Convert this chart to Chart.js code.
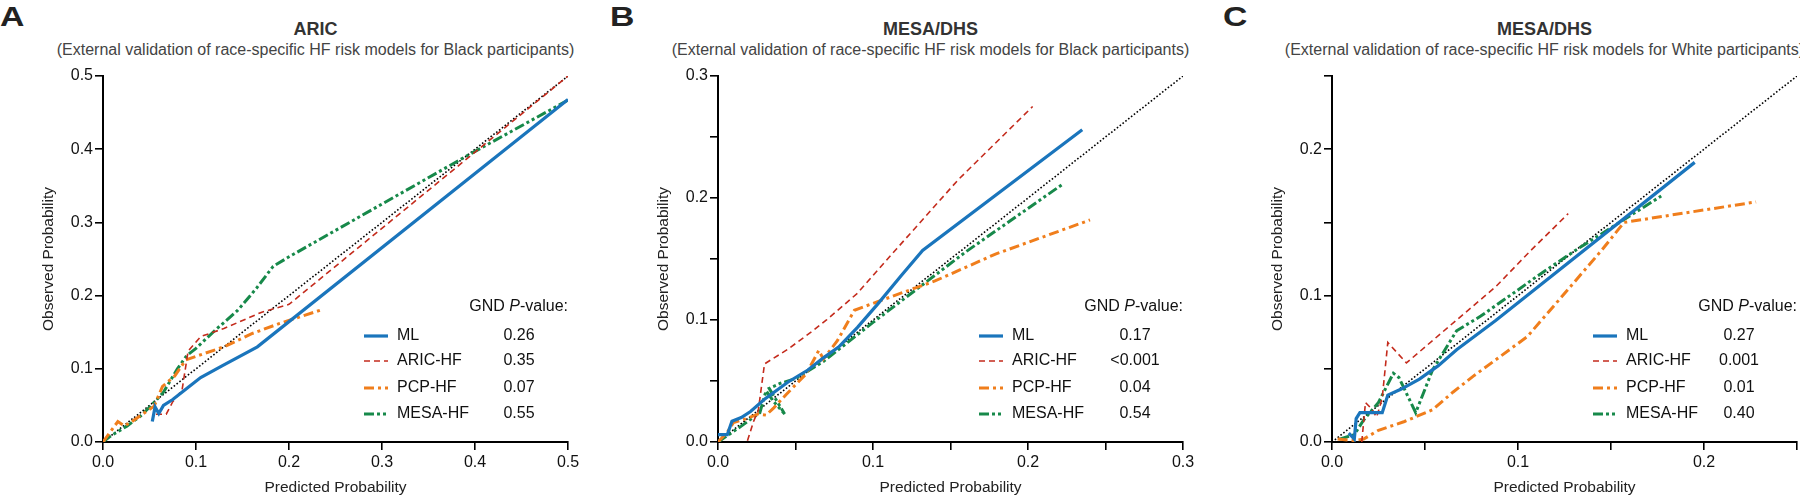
<!DOCTYPE html>
<html><head><meta charset="utf-8">
<script src="https://cdn.jsdelivr.net/npm/chart.js@4"></script>
<style>
html,body{margin:0;padding:0;background:#fff;width:1800px;height:497px;overflow:hidden;font-family:"Liberation Sans",Arial,sans-serif}
canvas{position:absolute;top:0}
.letter{position:absolute;top:4px;font-weight:bold;font-size:27px;line-height:27px;color:#222;transform:scaleX(1.25);transform-origin:left center}
.title{position:absolute;transform:translateX(-50%);white-space:nowrap;text-align:center}
.t1{top:19px;font-weight:bold;font-size:18px;line-height:20px;color:#333}
.t2{top:41px;font-size:16px;line-height:18px;color:#444}
</style></head><body>
<script>
// ---------- data ----------
const seriesNames = ['ML', 'ARIC-HF', 'PCP-HF', 'MESA-HF'];
const panelLetters = ['A', 'B', 'C'];
const panelTitles = ['ARIC', 'MESA/DHS', 'MESA/DHS'];
const panelSubtitles = [
  '(External validation of race-specific HF risk models for Black participants)',
  '(External validation of race-specific HF risk models for Black participants)',
  '(External validation of race-specific HF risk models for White participants)'
];
const xAxisTitle = 'Predicted Probability';
const yAxisTitle = 'Observed Probability';
const legendHeader = ['GND ', 'P', '-value:'];

const pValuesA = ['0.26', '0.35', '0.07', '0.55'];
const pValuesB = ['0.17', '<0.001', '0.04', '0.54'];
const pValuesC = ['0.27', '0.001', '0.01', '0.40'];

const axisMax = [0.5, 0.3, 0.25];
const tickStep = [0.1, 0.05, 0.05];

// Panel A (ARIC, Black participants)
const aML = [[0.053,0.028],[0.056,0.048],[0.060,0.039],[0.065,0.050],[0.075,0.058],[0.090,0.073],[0.105,0.088],[0.128,0.104],[0.166,0.130],[0.5,0.468]];
const aARIC = [[0.057,0.038],[0.068,0.038],[0.075,0.055],[0.085,0.071],[0.0915,0.124],[0.105,0.144],[0.13,0.155],[0.17,0.177],[0.2,0.188],[0.5,0.5]];
const aPCP = [[0,0],[0.016,0.028],[0.023,0.022],[0.03,0.027],[0.055,0.049],[0.064,0.076],[0.077,0.090],[0.089,0.112],[0.1,0.117],[0.13,0.13],[0.16,0.148],[0.19,0.162],[0.236,0.181]];
const aMESA = [[0,0],[0.008,0.008],[0.026,0.022],[0.04,0.035],[0.052,0.05],[0.065,0.068],[0.08,0.1],[0.09,0.118],[0.1,0.128],[0.12,0.152],[0.145,0.18],[0.165,0.21],[0.183,0.24],[0.2,0.253],[0.39,0.39],[0.5,0.467]];

// Panel B (MESA/DHS, Black participants)
const bML = [[0,0.006],[0.006,0.006],[0.009,0.017],[0.015,0.02],[0.021,0.025],[0.03,0.035],[0.045,0.049],[0.058,0.059],[0.068,0.069],[0.078,0.078],[0.09,0.094],[0.103,0.113],[0.118,0.136],[0.132,0.157],[0.235,0.256]];
const bARIC = [[0.019,0.001],[0.023,0.017],[0.026,0.026],[0.03,0.064],[0.045,0.076],[0.06,0.09],[0.07,0.1],[0.09,0.122],[0.115,0.158],[0.155,0.215],[0.203,0.275]];
const bPCP = [[0,0],[0.006,0.008],[0.01,0.016],[0.018,0.019],[0.026,0.023],[0.031,0.022],[0.036,0.028],[0.044,0.039],[0.057,0.056],[0.065,0.075],[0.068,0.068],[0.077,0.083],[0.088,0.108],[0.103,0.115],[0.118,0.122],[0.14,0.132],[0.179,0.154],[0.24,0.182]];
const bMESA = [[0,0],[0.015,0.013],[0.027,0.024],[0.031,0.042],[0.036,0.033],[0.043,0.023],[0.033,0.044],[0.04,0.048],[0.05,0.052],[0.068,0.066],[0.1,0.098],[0.13,0.127],[0.16,0.156],[0.222,0.211]];

// Panel C (MESA/DHS, White participants)
const cML = [[0.009,0.006],[0.012,0.002],[0.013,0.016],[0.015,0.02],[0.027,0.02],[0.03,0.032],[0.037,0.036],[0.047,0.043],[0.057,0.052],[0.067,0.063],[0.088,0.083],[0.195,0.191]];
const cARIC = [[0.016,0],[0.018,0.027],[0.021,0.023],[0.024,0.017],[0.027,0.03],[0.03,0.068],[0.04,0.054],[0.063,0.079],[0.088,0.106],[0.107,0.131],[0.127,0.156]];
const cPCP = [[0.003,0.002],[0.012,0.001],[0.017,0.002],[0.025,0.008],[0.039,0.014],[0.054,0.022],[0.065,0.034],[0.076,0.045],[0.09,0.058],[0.105,0.072],[0.122,0.097],[0.145,0.131],[0.157,0.15],[0.228,0.164]];
const cMESA = [[0.004,0.002],[0.012,0.005],[0.017,0.015],[0.025,0.027],[0.033,0.047],[0.036,0.044],[0.045,0.02],[0.054,0.049],[0.067,0.076],[0.08,0.086],[0.099,0.103],[0.11,0.113],[0.131,0.131],[0.177,0.168]];

// ---------- styles ----------
const FONT = '"Liberation Sans", Arial, Helvetica, sans-serif';
const seriesStyle = [
  {color:'#1a75bc', width:3.2, dash:[]},
  {color:'#c42b1c', width:1.6, dash:[6,4]},
  {color:'#f07e1c', width:3, dash:[10,4,3,4]},
  {color:'#17894a', width:3, dash:[10,3,3,3,3,3]}
];
const plotLefts = [103, 718, 1332];
const PLOT_W = 465;
const YAXIS_W = 64;
const valueCenters = [416, 417, 407];

const panelSeries = [[aML,aARIC,aPCP,aMESA],[bML,bARIC,bPCP,bMESA],[cML,cARIC,cPCP,cMESA]];
const panelP = [pValuesA, pValuesB, pValuesC];

function tickLabel(v){
  const k = Math.round(v*20);
  return k % 2 === 0 ? (k/20).toFixed(1) : '';
}

panelLetters.forEach((L, i) => {
  const pl = plotLefts[i];
  const le = document.createElement('div');
  le.className = 'letter'; le.textContent = L;
  le.style.left = [0, 610, 1223][i] + 'px';
  document.body.appendChild(le);
  const cx = pl + PLOT_W/2 - 20;
  const t1 = document.createElement('div'); t1.className = 'title t1'; t1.textContent = panelTitles[i]; t1.style.left = cx + 'px';
  const t2 = document.createElement('div'); t2.className = 'title t2'; t2.textContent = panelSubtitles[i]; t2.style.left = cx + 'px';
  document.body.appendChild(t1); document.body.appendChild(t2);

  const cv = document.createElement('canvas');
  const cw = YAXIS_W + PLOT_W + 20;
  cv.width = cw; cv.height = 497;
  cv.style.left = (pl - YAXIS_W) + 'px';
  cv.style.width = cw + 'px'; cv.style.height = '497px';
  document.body.appendChild(cv);

  const max = axisMax[i];
  const datasets = panelSeries[i].map((arr, k) => ({
    label: seriesNames[k],
    data: arr.map(([x, y]) => ({x, y})),
    borderColor: seriesStyle[k].color,
    borderWidth: seriesStyle[k].width,
    borderDash: seriesStyle[k].dash,
    fill: false, pointRadius: 0, tension: 0, order: k
  }));
  datasets.push({
    label: 'ref',
    data: [{x:0, y:0}, {x:max, y:max}],
    borderColor: '#000', borderWidth: 1.6, borderDash: [1.6, 2],
    fill: false, pointRadius: 0, tension: 0, order: 10
  });

  const pv = panelP[i];
  const vc = valueCenters[i];
  const legendPlugin = {
    id: 'gndLegend' + i,
    afterDraw(chart) {
      const ctx = chart.ctx, a = chart.chartArea;
      ctx.save();
      const f = '16px ' + FONT, fi = 'italic 16px ' + FONT;
      ctx.textBaseline = 'middle'; ctx.fillStyle = '#111'; ctx.textAlign = 'left';
      const fonts = [f, fi, f];
      let w = 0;
      legendHeader.forEach((t, j) => { ctx.font = fonts[j]; w += ctx.measureText(t).width; });
      let x = a.right - w;
      legendHeader.forEach((t, j) => { ctx.font = fonts[j]; ctx.fillText(t, x, 307); x += ctx.measureText(t).width; });
      const rows = [336, 361, 388, 414];
      for (let k = 0; k < 4; k++) {
        const ds = chart.data.datasets[k], y = rows[k];
        ctx.beginPath();
        ctx.setLineDash(ds.borderDash); ctx.lineWidth = ds.borderWidth; ctx.strokeStyle = ds.borderColor;
        ctx.moveTo(a.left + 261, y); ctx.lineTo(a.left + 285, y); ctx.stroke();
        ctx.setLineDash([]);
        ctx.font = f; ctx.textAlign = 'left'; ctx.fillText(ds.label, a.left + 294, y);
        ctx.textAlign = 'center'; ctx.fillText(pv[k], a.left + vc, y);
      }
      ctx.restore();
    }
  };

  const axisCommon = {
    type: 'linear', min: 0, max: max,
    grid: {display: true, drawOnChartArea: false, drawTicks: true, tickLength: 8, color: '#000', lineWidth: 1.6},
    border: {display: true, color: '#000', width: 2},
  };

  new Chart(cv, {
    type: 'line',
    data: {datasets},
    options: {
      responsive: false, animation: false, devicePixelRatio: 1,
      layout: {padding: {top: 76, right: 20, left: 0, bottom: 0}},
      plugins: {legend: {display: false}, tooltip: {enabled: false}},
      scales: {
        x: Object.assign({}, axisCommon, {
          position: 'bottom',
          afterFit: s => { s.height = 55; },
          ticks: {stepSize: tickStep[i], autoSkip: false, maxRotation: 0, padding: 3, color: '#111', font: {family: FONT, size: 16}, callback: tickLabel},
          title: {display: true, text: xAxisTitle, padding: 0, color: '#222', font: {family: FONT, size: 15.5}}
        }),
        y: Object.assign({}, axisCommon, {
          position: 'left',
          afterFit: s => { s.width = YAXIS_W; },
          ticks: {stepSize: tickStep[i], autoSkip: false, padding: 2, color: '#111', font: {family: FONT, size: 16}, callback: tickLabel},
          title: {display: true, text: yAxisTitle, padding: 0, color: '#222', font: {family: FONT, size: 15.5}}
        })
      }
    },
    plugins: [legendPlugin]
  });
});
</script>
</body></html>
